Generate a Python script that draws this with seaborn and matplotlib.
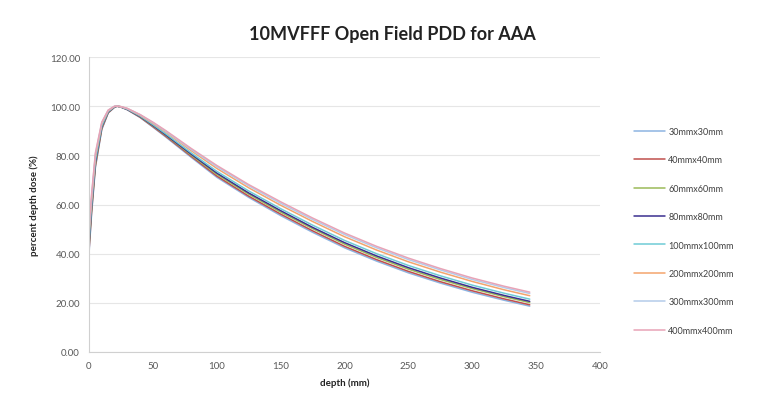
import numpy as np
import pandas as pd
import matplotlib
matplotlib.use("Agg")
import matplotlib.pyplot as plt
import seaborn as sns

depth = [0, 2, 5, 10, 15, 20, 22, 25, 30, 40, 50, 60, 80, 100, 125, 150, 175, 200, 225, 250, 275, 300, 325, 345]

pdd_30 = [40, 56, 75, 90.5, 97.2, 99.6, 100, 99.6, 98.5, 95.4, 91.5, 87.5, 79.2, 71.1, 62.9, 55.5, 48.7, 42.4, 37.0, 32.2, 28.05, 24.3, 21.05, 18.65]
pdd_40 = [41, 56.8, 75.6, 90.8, 97.3, 99.6, 100, 99.6, 98.6, 95.5, 91.7, 87.8, 79.6, 71.6, 63.4, 56.1, 49.3, 43.0, 37.6, 32.8, 28.6, 24.9, 21.6, 19.2]
pdd_60 = [42.5, 58, 76.5, 91.3, 97.5, 99.7, 100, 99.7, 98.7, 95.7, 92.0, 88.2, 80.1, 72.3, 64.2, 56.9, 50.2, 43.9, 38.5, 33.7, 29.5, 25.8, 22.5, 20.1]
pdd_80 = [43.5, 58.8, 77.1, 91.6, 97.6, 99.7, 100, 99.7, 98.7, 95.8, 92.2, 88.4, 80.5, 72.8, 64.7, 57.5, 50.7, 44.5, 39.1, 34.3, 30.1, 26.3, 23.0, 20.6]
pdd_100 = [45, 60, 78, 92, 97.8, 99.8, 100, 99.7, 98.8, 96.0, 92.5, 88.8, 81.0, 73.5, 65.5, 58.3, 51.6, 45.4, 40.0, 35.2, 31.0, 27.2, 23.9, 21.5]
pdd_200 = [47.5, 62, 79.5, 92.8, 98.1, 99.9, 100, 99.8, 99.0, 96.3, 93.0, 89.5, 81.9, 74.7, 66.8, 59.7, 53.1, 46.9, 41.5, 36.7, 32.5, 28.7, 25.3, 22.9]
pdd_300 = [49, 63.2, 80.4, 93.2, 98.3, 100, 100, 99.8, 99.0, 96.5, 93.3, 89.8, 82.4, 75.4, 67.6, 60.5, 53.9, 47.8, 42.4, 37.6, 33.4, 29.5, 26.2, 23.8]
pdd_400 = [50, 64, 81, 93.5, 98.4, 100, 100, 99.8, 99.1, 96.6, 93.5, 90.1, 82.8, 75.9, 68.1, 61.1, 54.5, 48.4, 43.0, 38.2, 33.95, 30.1, 26.75, 24.35]

fields = ["30mmx30mm", "40mmx40mm", "60mmx60mm", "80mmx80mm",
          "100mmx100mm", "200mmx200mm", "300mmx300mm", "400mmx400mm"]
series = [pdd_30, pdd_40, pdd_60, pdd_80, pdd_100, pdd_200, pdd_300, pdd_400]
colors = ["#8DB4E2", "#C0504D", "#9BBB59", "#3B2F8F",
          "#6FCBD6", "#F4A46C", "#B4CBEA", "#E8A3B6"]

rows = []
for f, vals in zip(fields, series):
    for d, v in zip(depth, vals):
        rows.append({"depth": d, "pdd": v, "field": f})
df = pd.DataFrame(rows)

sns.set_style("white")
plt.rcParams["font.family"] = ["Lato", "DejaVu Sans"]

fig = plt.figure(figsize=(7.7, 4.06), dpi=100)
ax = fig.add_axes([89/770, 1-353/406, 511/770, 295/406])

sns.lineplot(data=df, x="depth", y="pdd", hue="field", hue_order=fields,
             palette=dict(zip(fields, colors)), linewidth=1.1, ax=ax,
             estimator=None, sort=False)

ax.set_xlim(0, 400)
ax.set_ylim(0, 120)
ax.set_xticks(np.arange(0, 401, 50))
ax.set_yticks(np.arange(0, 121, 20))
ax.set_yticklabels([f"{v:.2f}" for v in np.arange(0, 121, 20)])
ax.yaxis.grid(True, color="#E6E6E6", linewidth=0.8)
ax.xaxis.grid(False)
for s in ["top", "right"]:
    ax.spines[s].set_visible(False)
for s in ["left", "bottom"]:
    ax.spines[s].set_color("#D0D0D0")
    ax.spines[s].set_linewidth(0.8)
ax.tick_params(axis="both", labelsize=7, colors="#595959", length=3, width=0.6)
ax.tick_params(axis="both", color="#D0D0D0")
ax.set_xlabel("depth (mm)", fontsize=7, fontweight="bold", color="#222222", labelpad=5)
ax.set_ylabel("percent depth dose (%)", fontsize=7, fontweight="bold", color="#222222", labelpad=8)

fig.suptitle("10MVFFF Open Field PDD for AAA", x=392/770, y=0.935, fontsize=13,
             fontweight="bold", color="#222222")

leg = ax.legend(loc="upper left", bbox_to_anchor=(634/770, 1-128/406),
                bbox_transform=fig.transFigure, frameon=False, fontsize=6.5,
                handlelength=3.4, labelspacing=2.15, handletextpad=0.4,
                borderaxespad=0, borderpad=0)
for t in leg.get_texts():
    t.set_color("#404040")

fig.savefig("out.png", dpi=100, facecolor="white")
